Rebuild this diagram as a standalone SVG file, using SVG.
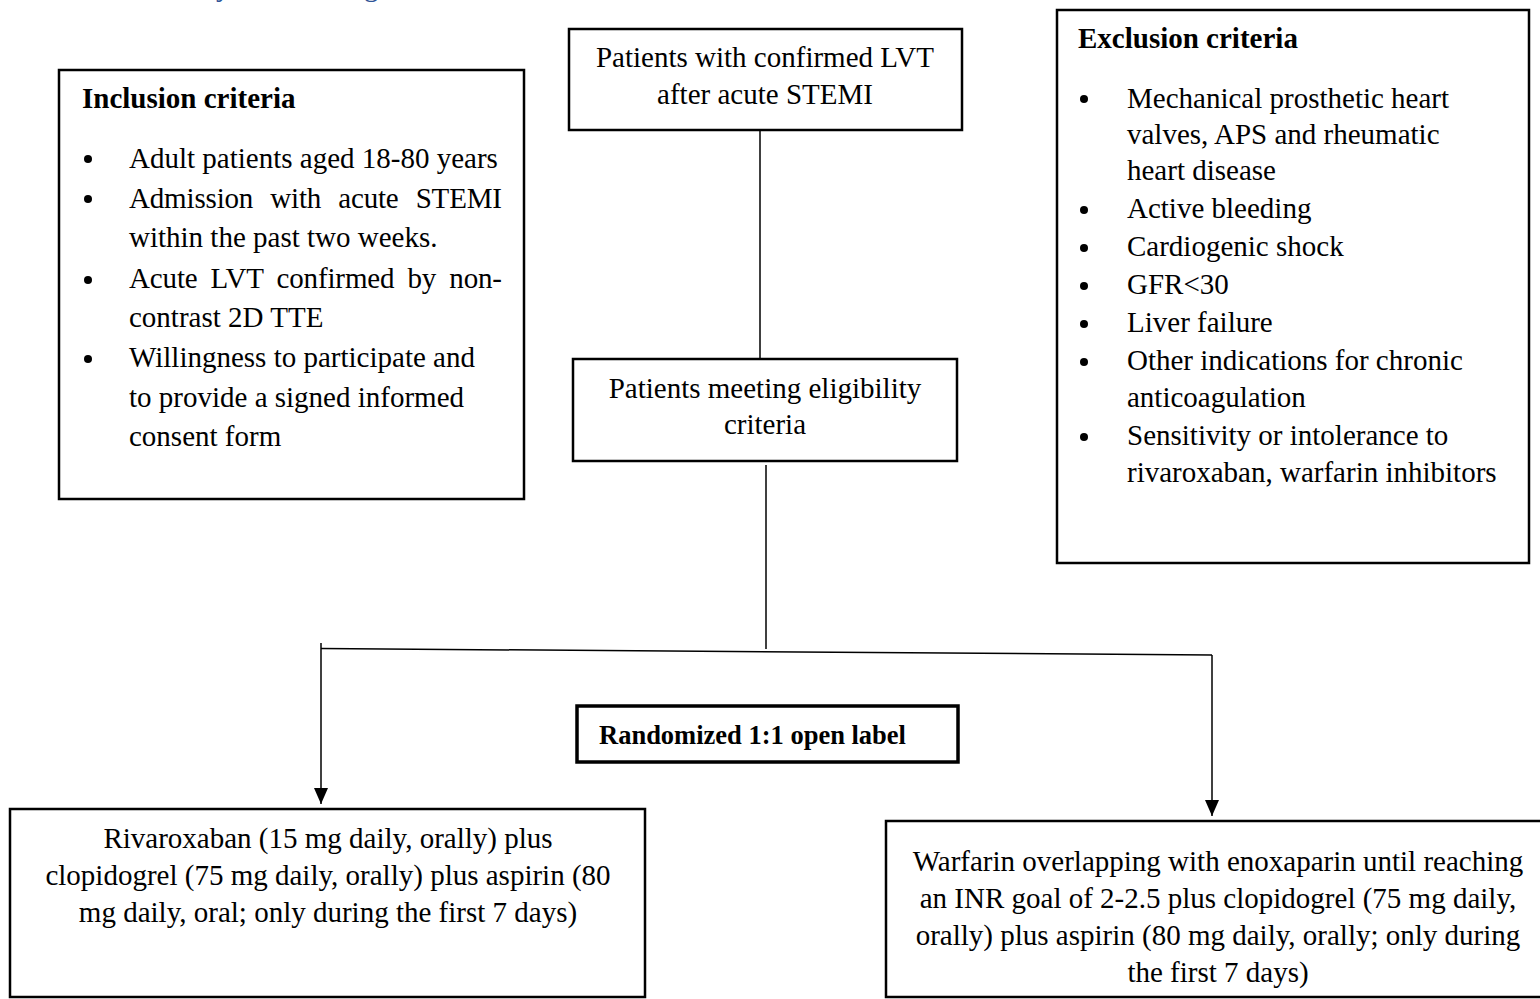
<svg xmlns="http://www.w3.org/2000/svg" width="1540" height="999" viewBox="0 0 1540 999">
<style>
  .box { fill: #fff; stroke: #000; stroke-width: 2.5; }
  .rbox { fill: #fff; stroke: #000; stroke-width: 3.5; }
  .t { font-family: "Liberation Serif", "Times New Roman", serif; font-size: 29px; fill: #000; }
  .c { text-anchor: middle; }
  .b { font-weight: bold; }
  .conn { stroke: #000; stroke-width: 1.5; fill: none; }
  .dot { fill: #000; }
  .blue { font-family: "Liberation Serif", "Times New Roman", serif; font-size: 29px; fill: #2F5597; }
</style>
<defs>
  <marker id="arr" viewBox="0 0 16 14" refX="16" refY="7" markerWidth="16" markerHeight="14" markerUnits="userSpaceOnUse" orient="auto">
    <path d="M0,0 L16,7 L0,14 Z" fill="#000"/>
  </marker>
</defs>
<rect width="1540" height="999" fill="#fff"/>

<text class="blue" x="216" y="-4">y</text>
<text class="blue" x="364" y="-4">g</text>

<g id="connectors">
  <line class="conn" x1="760" y1="131" x2="760" y2="361"/>
  <line class="conn" x1="766" y1="465" x2="766" y2="649"/>
  <line class="conn" x1="321" y1="648.5" x2="1212" y2="655"/>
  <path class="conn" d="M321,643 L321,804" marker-end="url(#arr)"/>
  <path class="conn" d="M1212,655 L1212,816" marker-end="url(#arr)"/>
</g>

<g id="inclusion">
  <rect class="box" x="59" y="70" width="465" height="429"/>
  <text class="t b" x="82" y="108">Inclusion criteria</text>
  <circle class="dot" cx="88" cy="159" r="4"/>
  <text class="t" x="129" y="168">Adult patients aged 18-80 years</text>
  <circle class="dot" cx="88" cy="199" r="4"/>
  <text class="t" x="129" y="208" textLength="373" lengthAdjust="spacing" word-spacing="10">Admission with acute STEMI</text>
  <text class="t" x="129" y="247">within the past two weeks.</text>
  <circle class="dot" cx="88" cy="280" r="4"/>
  <text class="t" x="129" y="288" textLength="373" lengthAdjust="spacing" word-spacing="6">Acute LVT confirmed by non-</text>
  <text class="t" x="129" y="327">contrast 2D TTE</text>
  <circle class="dot" cx="88" cy="359" r="4"/>
  <text class="t" x="129" y="367">Willingness to participate and</text>
  <text class="t" x="129" y="407">to provide a signed informed</text>
  <text class="t" x="129" y="446">consent form</text>
</g>

<g id="start">
  <rect class="box" x="569" y="29" width="393" height="101"/>
  <text class="t c" x="765" y="67">Patients with confirmed LVT</text>
  <text class="t c" x="765" y="104">after acute STEMI</text>
</g>

<g id="exclusion">
  <rect class="box" x="1057" y="10" width="472" height="553"/>
  <text class="t b" x="1078" y="48">Exclusion criteria</text>
  <circle class="dot" cx="1084" cy="99" r="4"/>
  <text class="t" x="1127" y="108">Mechanical prosthetic heart</text>
  <text class="t" x="1127" y="144">valves, APS and rheumatic</text>
  <text class="t" x="1127" y="180">heart disease</text>
  <circle class="dot" cx="1084" cy="210" r="4"/>
  <text class="t" x="1127" y="218">Active bleeding</text>
  <circle class="dot" cx="1084" cy="248" r="4"/>
  <text class="t" x="1127" y="256">Cardiogenic shock</text>
  <circle class="dot" cx="1084" cy="286" r="4"/>
  <text class="t" x="1127" y="294">GFR&lt;30</text>
  <circle class="dot" cx="1084" cy="324" r="4"/>
  <text class="t" x="1127" y="332">Liver failure</text>
  <circle class="dot" cx="1084" cy="362" r="4"/>
  <text class="t" x="1127" y="370">Other indications for chronic</text>
  <text class="t" x="1127" y="407">anticoagulation</text>
  <circle class="dot" cx="1084" cy="437" r="4"/>
  <text class="t" x="1127" y="445">Sensitivity or intolerance to</text>
  <text class="t" x="1127" y="482">rivaroxaban, warfarin inhibitors</text>
</g>

<g id="eligible">
  <rect class="box" x="573" y="359" width="384" height="102"/>
  <text class="t c" x="765" y="398">Patients meeting eligibility</text>
  <text class="t c" x="765" y="434">criteria</text>
</g>

<g id="randomized">
  <rect class="rbox" x="577" y="706" width="381" height="56"/>
  <text class="t b" x="599" y="744" style="font-size:26.5px">Randomized 1:1 open label</text>
</g>

<g id="rivaroxaban">
  <rect class="box" x="10" y="809" width="635" height="188"/>
  <text class="t c" x="328" y="848">Rivaroxaban (15 mg daily, orally) plus</text>
  <text class="t c" x="328" y="885">clopidogrel (75 mg daily, orally) plus aspirin (80</text>
  <text class="t c" x="328" y="922">mg daily, oral; only during the first 7 days)</text>
</g>

<g id="warfarin">
  <rect class="box" x="886" y="821" width="664" height="176"/>
  <text class="t c" x="1218" y="871">Warfarin overlapping with enoxaparin until reaching</text>
  <text class="t c" x="1218" y="908">an INR goal of 2-2.5 plus clopidogrel (75 mg daily,</text>
  <text class="t c" x="1218" y="945">orally) plus aspirin (80 mg daily, orally; only during</text>
  <text class="t c" x="1218" y="982">the first 7 days)</text>
</g>
</svg>
